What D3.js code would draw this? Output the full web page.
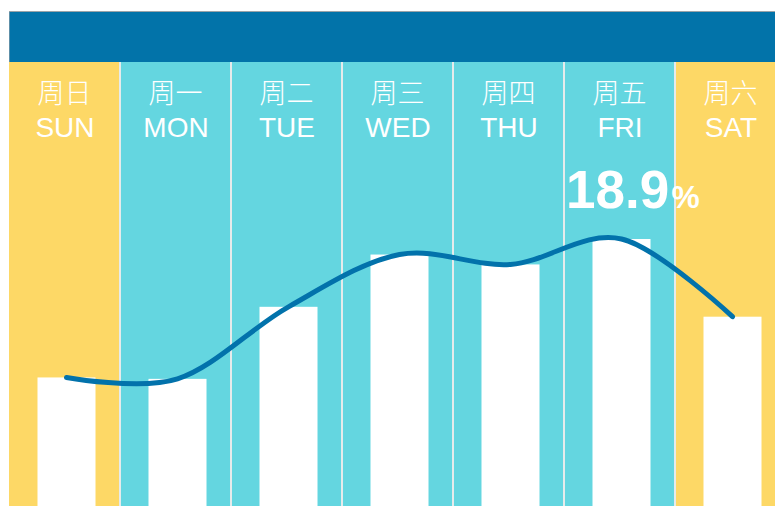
<!DOCTYPE html>
<html>
<head>
<meta charset="utf-8">
<script src="https://cdn.jsdelivr.net/npm/d3@7"></script>
<style>
  html, body { margin: 0; padding: 0; background: #ffffff; }
  svg { display: block; }
</style>
</head>
<body>
<svg id="chart" width="775" height="506"></svg>
<script>
// Weekly share by day of week
const days = ["SUN", "MON", "TUE", "WED", "THU", "FRI", "SAT"];
const dayNamesCN = ["周日", "周一", "周二", "周三", "周四", "周五", "周六"];
const values = [9.1, 9.0, 14.1, 17.8, 17.1, 18.9, 13.4];
const weekend = ["SUN", "SAT"];
const highlightDay = "FRI";

const W = 775, H = 506;
const svg = d3.select("#chart");

const colors = {
  banner: "#0273a9",
  frame: "#9aa3a8",
  weekend: "#fdd866",
  weekday: "#64d6e0",
  gap: "#e6ebeb",
  bar: "#ffffff",
  line: "#0272ab",
  text: "#ffffff"
};

const plotTop = 62, plotBottom = H;

const x = d3.scaleBand().domain(days).range([9, 9 + 111 * days.length]).padding(0);
const y = d3.scaleLinear().domain([0, 18.9]).range([plotBottom, 239]);

// frame and title banner
svg.append("rect").attr("x", 9).attr("y", 11).attr("width", W - 9).attr("height", H - 11).attr("fill", colors.gap);
svg.append("line").attr("x1", 9).attr("x2", W).attr("y1", 11.5).attr("y2", 11.5).attr("stroke", colors.frame).attr("stroke-width", 1);
svg.append("rect").attr("x", 9).attr("y", 12).attr("width", W - 9).attr("height", plotTop - 12).attr("fill", colors.banner);
svg.append("line").attr("x1", 9.5).attr("x2", 9.5).attr("y1", 11).attr("y2", plotTop).attr("stroke", colors.frame).attr("stroke-width", 1).attr("opacity", 0.6);

// day columns
svg.append("g").selectAll("rect").data(days).join("rect")
  .attr("x", (d, i) => i === 0 ? x(d) : x(d) + 1)
  .attr("y", plotTop)
  .attr("width", (d, i) => i === 0 ? 110 : 109)
  .attr("height", plotBottom - plotTop)
  .attr("fill", d => weekend.includes(d) ? colors.weekend : colors.weekday);

// day labels
const labels = svg.append("g").attr("fill", colors.text).attr("text-anchor", "middle");
labels.selectAll("text.cn").data(days).join("text")
  .attr("class", "cn")
  .attr("x", d => x(d) + x.bandwidth() / 2)
  .attr("y", 103)
  .attr("font-family", "'Noto Sans CJK SC', sans-serif")
  .attr("font-size", 27)
  .attr("font-weight", 300)
  .text((d, i) => dayNamesCN[i]);
labels.selectAll("text.en").data(days).join("text")
  .attr("class", "en")
  .attr("x", d => x(d) + x.bandwidth() / 2 + 0.5)
  .attr("y", 137)
  .attr("font-family", "'Liberation Sans', Arial, sans-serif")
  .attr("font-size", 28)
  .text(d => d);

// bars
const barW = 58;
const barCenter = d => x(d) + x.bandwidth() / 2 + 2;
svg.append("g").selectAll("rect").data(days).join("rect")
  .attr("x", d => barCenter(d) - barW / 2)
  .attr("y", (d, i) => y(values[i]))
  .attr("width", barW)
  .attr("height", (d, i) => plotBottom - y(values[i]))
  .attr("fill", colors.bar);

// smoothed trend line through the bar tops
const line = d3.line()
  .x(d => barCenter(d))
  .y(d => y(values[days.indexOf(d)]))
  .curve(d3.curveCardinal.tension(0));
svg.append("path")
  .attr("d", line(days))
  .attr("fill", "none")
  .attr("stroke", colors.line)
  .attr("stroke-width", 5)
  .attr("stroke-linecap", "round");

// value label for the peak day
const hi = days.indexOf(highlightDay);
const label = svg.append("text")
  .attr("x", x(highlightDay) + 2)
  .attr("y", 208)
  .attr("text-anchor", "start")
  .attr("fill", colors.text)
  .attr("font-family", "'Liberation Sans', Arial, sans-serif")
  .attr("font-weight", "bold");
label.append("tspan").attr("font-size", 53).text(values[hi].toFixed(1));
label.append("tspan").attr("font-size", 32).attr("dx", 2).text("%");
</script>
</body>
</html>
